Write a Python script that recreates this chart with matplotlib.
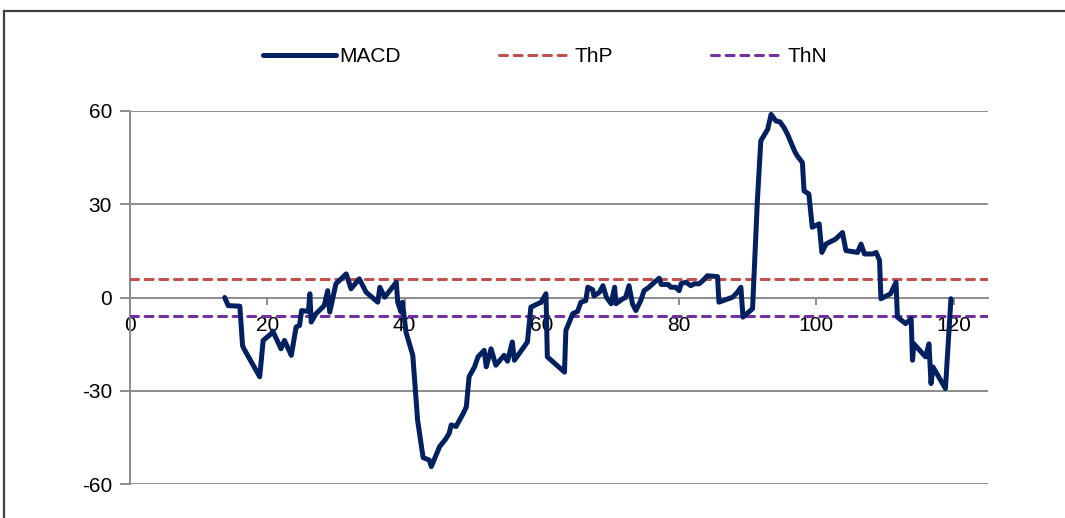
import matplotlib
matplotlib.use("Agg")
import matplotlib.pyplot as plt
from matplotlib.lines import Line2D

plt.rcParams['font.family'] = ['Liberation Sans', 'DejaVu Sans']

# MACD series (x position, value)
macd_x = [13.8, 14.3, 16.0, 16.4, 16.6, 18.9, 19.4, 20.6, 20.8, 22.0, 22.5, 23.5,
          24.2, 24.7, 25.0, 26.0, 26.2, 26.4, 27.1, 28.3, 28.8, 29.1, 30.0, 31.5,
          32.2, 33.4, 34.4, 36.1, 36.4, 37.1, 38.8, 39.0, 39.5, 39.7, 40.2, 41.2,
          41.9, 42.7, 43.6, 43.9, 45.1, 46.0, 46.5, 46.8, 47.5, 48.5, 49.0, 49.4,
          50.2, 50.7, 51.6, 51.9, 52.6, 53.3, 54.5, 55.0, 55.7, 56.0, 57.9, 58.4,
          59.9, 60.6, 60.8, 63.3, 63.5, 64.5, 65.2, 65.7, 66.4, 66.7, 67.4, 67.6,
          68.4, 68.9, 69.4, 70.1, 70.6, 70.8, 71.8, 72.2, 72.7, 73.2, 73.7, 74.4,
          74.9, 75.6, 76.4, 77.1, 77.4, 78.4, 78.8, 79.5, 80.0, 80.3, 81.0, 81.7,
          82.2, 82.9, 83.5, 84.1, 85.6, 85.8, 87.8, 88.5, 89.0, 89.3, 90.7, 91.4,
          91.9, 92.9, 93.4, 94.1, 94.7, 95.3, 95.8, 96.5, 96.8, 97.2, 97.96, 98.2,
          98.9, 99.4, 100.4, 100.8, 101.4, 102.8, 103.8, 104.3, 106.0, 106.5, 107.0,
          108.2, 108.7, 109.2, 109.4, 110.8, 111.6, 111.8, 113.0, 113.8, 114.0,
          114.2, 115.9, 116.4, 116.7, 117.0, 118.8, 119.6]
macd_y = [0.0, -2.6, -2.8, -15.5, -16.5, -25.5, -13.8, -11.6, -10.8, -16.5, -13.8, -18.6,
          -9.5, -9.0, -4.2, -4.5, 1.2, -7.9, -5.2, -2.6, 2.2, -4.7, 4.4, 7.6,
          2.8, 6.0, 1.7, -1.5, 3.3, 0.1, 4.9, -1.5, -4.7, -1.5, -11.1, -18.6,
          -39.5, -51.5, -52.3, -54.4, -48.0, -45.5, -43.7, -41.0, -41.5, -37.5, -35.2, -25.5,
          -22.3, -19.1, -17.0, -22.3, -16.5, -21.8, -18.6, -20.5, -14.3, -20.2, -14.3, -3.1,
          -1.5, 1.2, -19.1, -24.0, -10.6, -5.2, -4.5, -1.5, -1.0, 3.3, 2.5, 0.5,
          1.7, 3.8, 0.1, -2.0, 3.3, -2.0, -0.4, 0.0, 3.8, -2.0, -4.2, -1.0,
          2.2, 3.3, 4.9, 6.2, 4.2, 4.2, 3.3, 3.3, 2.2, 4.5, 4.9, 3.8,
          4.4, 4.4, 5.5, 7.0, 6.7, -1.5, 0.1, 1.7, 3.3, -6.3, -3.6, 31.1,
          50.4, 54.1, 58.9, 56.8, 56.5, 54.6, 52.5, 48.8, 47.2, 45.6, 43.4, 34.3,
          33.3, 22.6, 23.7, 14.5, 17.2, 18.8, 20.9, 15.1, 14.5, 17.2, 14.0,
          14.0, 14.5, 11.9, -0.4, 1.2, 4.9, -6.3, -8.4, -6.8, -20.2,
          -14.9, -19.1, -14.9, -27.7, -22.4, -29.3, -0.4]

thp_value = 6
thn_value = -6
x_range = [0, 125]
y_ticks = [-60, -30, 0, 30, 60]
x_ticks = [0, 20, 40, 60, 80, 100, 120]

W, H = 1065, 518
fig = plt.figure(figsize=(W / 100, H / 100), dpi=100)
fig.patch.set_facecolor('white')

# outer chart border
fig.add_artist(Line2D([4 / W, 4 / W], [0, 1 - 11 / H], transform=fig.transFigure,
                      color='#404040', lw=1.6))
fig.add_artist(Line2D([4 / W, 1], [1 - 11 / H, 1 - 11 / H], transform=fig.transFigure,
                      color='#404040', lw=1.6))

ax = fig.add_axes([130 / W, 34 / H, 858 / W, 373 / H])

ax.plot(macd_x, macd_y, color='#002060', lw=3.6, solid_joinstyle='round',
        solid_capstyle='round', label='MACD', zorder=4)
ax.plot(x_range, [thp_value, thp_value], color='#C0504D', lw=2.2, ls=(0, (2.6, 2.2)),
        dash_capstyle='round', label='ThP', zorder=3)
ax.plot(x_range, [thn_value, thn_value], color='#7030A0', lw=2.2, ls=(0, (2.6, 2.2)),
        dash_capstyle='round', label='ThN', zorder=3)

ax.set_xlim(x_range)
ax.set_ylim(-60, 60)
ax.set_yticks(y_ticks)
ax.set_xticks(x_ticks)
ax.set_yticklabels([str(v) for v in y_ticks])
ax.set_xticklabels([str(v) for v in x_ticks])

for v in y_ticks:
    if v != 0:
        ax.axhline(v, color='#8C8C8C', lw=1.4, zorder=1)

for s in ['top', 'right']:
    ax.spines[s].set_visible(False)
ax.spines['left'].set_color('#8C8C8C')
ax.spines['left'].set_linewidth(1.4)
ax.spines['bottom'].set_position(('data', 0))
ax.spines['bottom'].set_color('#8C8C8C')
ax.spines['bottom'].set_linewidth(1.4)
ax.spines['bottom'].set_zorder(1)

ax.tick_params(axis='y', length=7, width=1.4, color='#8C8C8C', labelsize=15, pad=6,
               labelcolor='black')
ax.tick_params(axis='x', length=5, width=1.4, color='#8C8C8C', labelsize=15, pad=8,
               labelcolor='black')

ax.legend(loc='center', bbox_to_anchor=(545 / W, 1 - 57 / H), bbox_transform=fig.transFigure,
          ncol=3, frameon=False, fontsize=15, handlelength=3.5, handletextpad=0.15,
          columnspacing=4.7)

fig.savefig('out.png', dpi=100, facecolor='white')
